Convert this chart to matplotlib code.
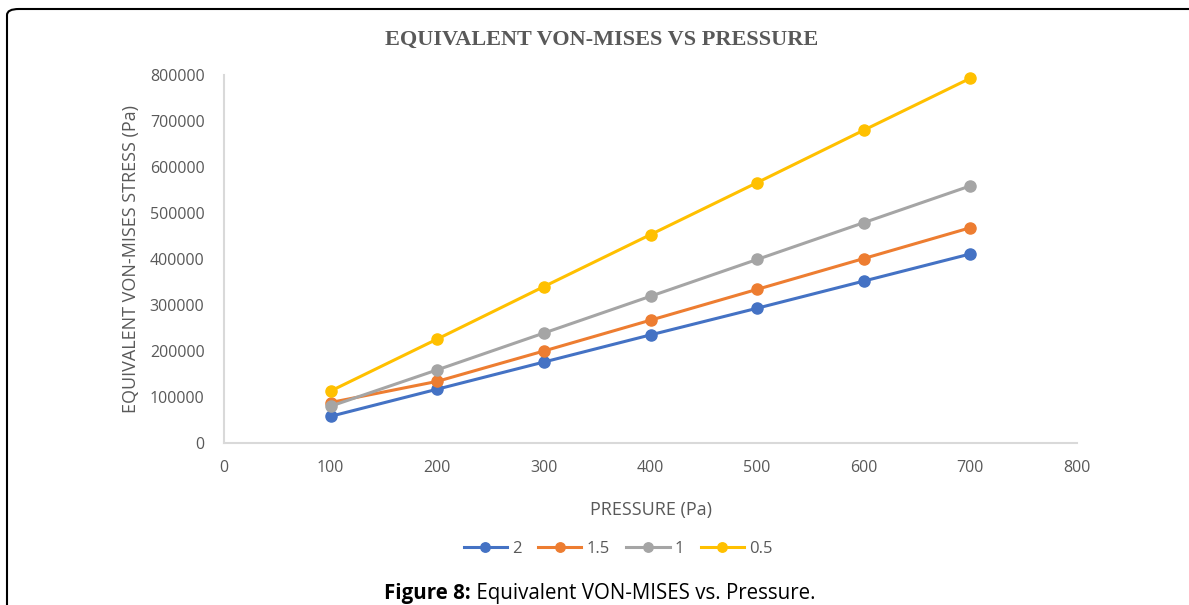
"""
Equivalent von-Mises stress vs pressure, four series
"""
import matplotlib
matplotlib.use("Agg")
import matplotlib.pyplot as plt
from matplotlib.patches import FancyBboxPatch

# data
pressure = [100, 200, 300, 400, 500, 600, 700]
stress_2 = [58000, 117000, 176000, 235000, 293000, 352000, 411000]
stress_1_5 = [88000, 134000, 200000, 267000, 334000, 401000, 468000]
stress_1 = [80000, 159000, 239000, 319000, 399000, 479000, 559000]
stress_0_5 = [113000, 226000, 340000, 453000, 566000, 680000, 793000]
series_labels = ["2", "1.5", "1", "0.5"]
series_colors = ["#4472C4", "#ED7D31", "#A5A5A5", "#FFC000"]
x_ticks = [0, 100, 200, 300, 400, 500, 600, 700, 800]
y_ticks = [0, 100000, 200000, 300000, 400000, 500000, 600000, 700000, 800000]

text_gray = "#595959"
sans = ["Open Sans", "DejaVu Sans"]

fig = plt.figure(figsize=(11.89, 6.05), dpi=100)
fig.patch.set_facecolor("white")

# rounded frame, only top/left edges inside the picture
frame = FancyBboxPatch((7 / 1189, -0.1), 1.2, 1.1 - 9 / 605,
                       boxstyle="round,pad=0,rounding_size=0.01",
                       transform=fig.transFigure, fill=False,
                       edgecolor="black", linewidth=1.5)
fig.add_artist(frame)

ax = fig.add_axes([224 / 1189, 1 - 443 / 605, (1077 - 224) / 1189, (443 - 75) / 605])

all_series = [stress_2, stress_1_5, stress_1, stress_0_5]
for values, label, color in zip(all_series, series_labels, series_colors):
    ax.plot(pressure, values, '-o', color=color, linewidth=2.2,
            markersize=8, label=label, clip_on=False)

ax.set_xlim(0, 800)
ax.set_ylim(0, 800000)
ax.set_xticks(x_ticks)
ax.set_yticks(y_ticks)
ax.set_xticklabels([str(v) for v in x_ticks])
ax.set_yticklabels([str(v) for v in y_ticks])
ax.tick_params(length=0, labelsize=11.5, labelcolor=text_gray, pad=14)
for lbl in ax.get_xticklabels() + ax.get_yticklabels():
    lbl.set_family(sans)
ax.tick_params(axis='x', pad=12)

for side in ["top", "right"]:
    ax.spines[side].set_visible(False)
for side in ["left", "bottom"]:
    ax.spines[side].set_color("#D9D9D9")
    ax.spines[side].set_linewidth(1.5)

ax.set_xlabel("PRESSURE (Pa)", fontsize=13, color=text_gray, family=sans, labelpad=18)
ax.set_ylabel("EQUIVALENT VON-MISES STRESS (Pa)", fontsize=13, color=text_gray,
              family=sans, labelpad=7)

fig.text(602 / 1189, 1 - 40 / 605, "EQUIVALENT VON-MISES VS PRESSURE",
         ha="center", va="center", fontsize=16, fontweight="bold",
         family="Liberation Serif", color=text_gray)

leg = ax.legend(loc="center", bbox_to_anchor=(618 / 1189, 1 - 549 / 605),
                bbox_transform=fig.transFigure, ncol=4, frameon=False,
                handlelength=2.6, columnspacing=1.0, handletextpad=0.3,
                markerscale=0.85, prop={"family": sans, "size": 12})
for t in leg.get_texts():
    t.set_color(text_gray)

# caption: bold lead-in followed by regular text, centred as one line
cap_y = 1 - 593 / 605
bold_part = fig.text(0, cap_y, "Figure 8:", ha="left", va="center",
                     fontsize=14.8, fontweight="bold", family=sans, color="black")
rest_part = fig.text(0, cap_y, " Equivalent VON-MISES vs. Pressure.", ha="left",
                     va="center", fontsize=14.8, family=sans, color="black")
renderer = fig.canvas.get_renderer()
w_bold = bold_part.get_window_extent(renderer).width / fig.bbox.width
w_rest = rest_part.get_window_extent(renderer).width / fig.bbox.width
start = 600 / 1189 - (w_bold + w_rest) / 2
bold_part.set_x(start)
rest_part.set_x(start + w_bold)

fig.savefig("out.png", dpi=100)
